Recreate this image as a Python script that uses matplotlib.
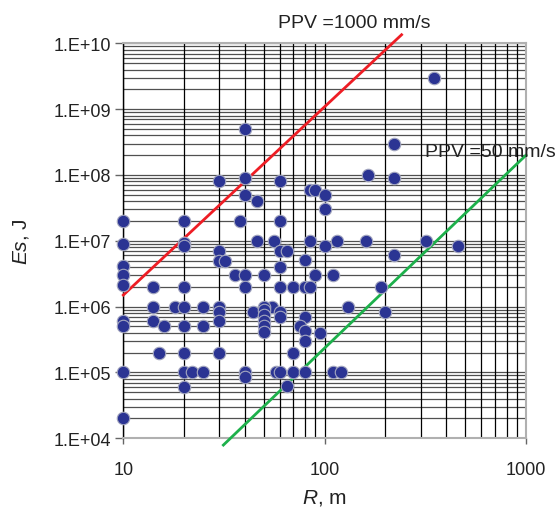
import numpy as np
import matplotlib
matplotlib.use("Agg")
import matplotlib.pyplot as plt
from matplotlib.ticker import FixedLocator, FuncFormatter, NullFormatter

plt.rcParams['font.family'] = ['Liberation Sans', 'DejaVu Sans']
plt.rcParams['mathtext.fontset'] = 'custom'
plt.rcParams['mathtext.it'] = 'Liberation Sans:italic'
plt.rcParams['mathtext.rm'] = 'Liberation Sans'

# Data: distance R (m) and seismic energy Es (J)
R = [40, 30, 40, 40, 46, 60,
     10, 20, 38, 60,
     10, 20, 20, 46, 56, 30, 60, 65,
     350, 220, 220, 165, 85, 90, 100, 100,
     85, 115, 160, 320, 460, 100, 80, 220,
     60, 90, 110, 60, 70, 80, 85, 190,
     55, 130, 60, 60, 80, 200, 75, 80, 80, 95,
     70, 57, 60, 70, 80, 110, 120, 65,
     10, 10, 10, 14, 20, 30, 32, 36, 40, 50, 40,
     10, 10, 14, 14, 16, 18, 20, 20, 25, 25,
     30, 30, 30, 44,
     50, 50, 50, 50, 50, 50,
     15, 20, 30, 10, 20, 22, 25, 20, 40, 40, 10]
Es = [5e8, 8e7, 9e7, 5e7, 4e7, 8e7,
      2e7, 2e7, 2e7, 2e7,
      9e6, 9.3e6, 8.4e6, 1e7, 1e7, 7e6, 7e6, 7e6,
      3e9, 3e8, 9e7, 1e8, 6e7, 6e7, 5e7, 3e7,
      1e7, 1e7, 1e7, 1e7, 8.3e6, 8.3e6, 5.2e6, 6e6,
      4e6, 3e6, 3e6, 2e6, 2e6, 2e6, 2e6, 2e6,
      1e6, 1e6, 8.4e5, 7e5, 7e5, 8.4e5, 5e5, 4.2e5, 3e5, 4e5,
      2e5, 1e5, 1e5, 1e5, 1e5, 1e5, 1e5, 6.2e4,
      4.1e6, 3e6, 2.1e6, 2e6, 2e6, 5e6, 5e6, 3e6, 3e6, 3e6, 2e6,
      6e5, 5e5, 1e6, 6e5, 5e5, 1e6, 1e6, 5e5, 1e6, 5e5,
      1e6, 8.4e5, 6e5, 8.4e5,
      1e6, 9e5, 7.5e5, 6e5, 5e5, 4.1e5,
      2e5, 2e5, 2e5, 1e5, 1e5, 1e5, 1e5, 6e4, 1e5, 8.4e4, 2e4]

# PPV threshold lines (end points)
ppv1000_R = [10, 241]
ppv1000_E = [1.5e6, 1.35e10]
ppv50_R = [31.4, 1000]
ppv50_E = [7.9e3, 2.0e8]

x_ticks = [10, 100, 1000]
y_ticks = [1e4, 1e5, 1e6, 1e7, 1e8, 1e9, 1e10]

fig = plt.figure(figsize=(5.59, 5.10), dpi=100)
ax = fig.add_axes([0.2206, 0.1386, 0.941 - 0.2206, 0.9131 - 0.1386])
ax.set_xscale('log')
ax.set_yscale('log')
ax.set_xlim(10, 1000)
ax.set_ylim(1e4, 1e10)

# grid lines
minor_x = [m * 10.0**e for e in (1, 2) for m in range(1, 10)] + [1000]
minor_y = [m * 10.0**e for e in range(4, 10) for m in range(1, 10)] + [1e10]
for yv in minor_y:
    ax.axhline(yv, color='#505050', lw=0.9, zorder=1)
for xv in minor_x:
    ax.axvline(xv, color='black', lw=0.9, zorder=1)

ax.plot(ppv1000_R, ppv1000_E, color='#EE1D24', lw=2.0, zorder=3, clip_on=False)
ax.plot(ppv50_R, ppv50_E, color='#1DB04B', lw=2.0, zorder=3, clip_on=False)

ax.plot(R, Es, linestyle='none', marker='o', markersize=9,
        markerfacecolor='#2B3493', markeredgecolor='#A5A8C0',
        markeredgewidth=0.8, zorder=4, clip_on=False)

ax.text(58.7, 2.05e10, 'PPV =1000 mm/s', fontsize=14, ha='left', va='center',
        color='#222222', clip_on=False)
ax.text(315, 2.24e8, 'PPV =50 mm/s', fontsize=14, ha='left', va='center',
        color='#222222', clip_on=False, zorder=5)

ax.xaxis.set_major_locator(FixedLocator(x_ticks))
ax.xaxis.set_major_formatter(FuncFormatter(lambda v, p: f'{v:g}'))
ax.xaxis.set_minor_locator(FixedLocator([]))
ax.xaxis.set_minor_formatter(NullFormatter())
ax.yaxis.set_major_locator(FixedLocator(y_ticks))
ax.yaxis.set_major_formatter(FuncFormatter(lambda v, p: f'1.E+{int(round(np.log10(v))):02d}'))
ax.yaxis.set_minor_locator(FixedLocator([]))
ax.yaxis.set_minor_formatter(NullFormatter())

ax.tick_params(axis='x', direction='out', length=4, width=1, color='#666666',
               pad=12, labelsize=13, labelcolor='#222222')
ax.tick_params(axis='y', direction='out', length=6, width=1, color='#666666',
               pad=3, labelsize=13, labelcolor='#222222')

for side in ('top', 'right', 'bottom'):
    ax.spines[side].set_color('#B0B0B0')
    ax.spines[side].set_linewidth(1.5)
ax.spines['left'].set_color('black')
ax.spines['left'].set_linewidth(1.0)

ax.set_xlabel(r'$\it{R}$, m', fontsize=15, color='#222222', labelpad=7)
ax.set_ylabel(r'$\it{Es}$, J', fontsize=15, color='#222222', labelpad=16)

fig.savefig('out.png', dpi=100)
